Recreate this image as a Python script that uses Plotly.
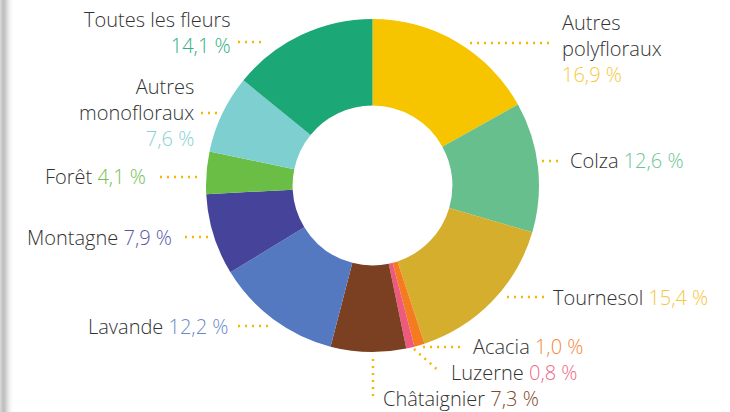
import plotly.graph_objects as go

W, H = 730, 412

labels = ["Autres polyfloraux", "Colza", "Tournesol", "Acacia", "Luzerne", "Châtaignier",
          "Lavande", "Montagne", "Forêt", "Autres monofloraux", "Toutes les fleurs"]
values = [16.9, 12.6, 15.4, 1.0, 0.8, 7.3, 12.2, 7.9, 4.1, 7.6, 14.1]
value_text = ["16,9 %", "12,6 %", "15,4 %", "1,0 %", "0,8 %", "7,3 %",
              "12,2 %", "7,9 %", "4,1 %", "7,6 %", "14,1 %"]
slice_colors = ["#F6C500", "#66BF8C", "#D4AE2C", "#F47B20", "#EE5A7E", "#7B4022",
                "#5479C0", "#46449A", "#6BBE45", "#7ECFCF", "#1BA776"]
value_colors = ["#F7C843", "#6CC597", "#F7C53E", "#F4863A", "#EE6A8A", "#7E4A2C",
                "#6A8ACB", "#5A57A8", "#74C153", "#86D2D2", "#2FB183"]

# label layout: (html name part, anchor, x px, y px, align)
label_layout = [
    ("Autres<br>polyfloraux<br>", "left", 560, 48.5, "left"),
    ("Colza ", "left", 568, 161, "left"),
    ("Tournesol ", "left", 551, 297, "left"),
    ("Acacia ", "left", 471, 346, "left"),
    ("Luzerne ", "left", 449, 372, "left"),
    ("Châtaignier ", "left", 381, 398.6, "left"),
    ("Lavande ", "right", 230, 326, "right"),
    ("Montagne ", "right", 174, 237, "right"),
    ("Forêt ", "right", 148, 177, "right"),
    ("Autres<br>monofloraux<br>", "right", 196, 112.5, "right"),
    ("Toutes les fleurs<br>", "right", 233, 32.5, "right"),
]

leaders = [
    (470, 43, 552, 43),
    (542, 161, 559, 161),
    (507, 297, 544, 297),
    (423, 347, 463, 347),
    (414, 349, 440, 372),
    (373, 359, 373, 397),
    (238, 326, 270, 326),
    (185, 237, 210, 237),
    (160, 177, 199, 177),
    (201, 113, 220, 113),
    (238, 42, 262, 42),
]

def px(x):
    return x / W

def py(y):
    return 1 - y / H

FONT = "Open Sans"

fig = go.Figure(go.Pie(
    labels=labels, values=values, sort=False, direction="clockwise", rotation=0,
    hole=0.48, marker=dict(colors=slice_colors, line=dict(width=0)),
    textinfo="none", hoverinfo="label+percent", showlegend=False,
    domain=dict(x=[px(206), px(539)], y=[py(352), py(19)]),
))

annotations = []
for (name, anchor, x, y, align), vt, vc in zip(label_layout, value_text, value_colors):
    annotations.append(dict(
        xref="paper", yref="paper", x=px(x), y=py(y), xanchor=anchor, yanchor="middle",
        align=align, showarrow=False,
        text=f"{name}<span style='color:{vc}'>{vt}</span>",
        font=dict(family=FONT, size=20, color="#333333", weight=300),
    ))

shapes = []
for x0, y0, x1, y1 in leaders:
    shapes.append(dict(type="line", xref="paper", yref="paper",
                       x0=px(x0), y0=py(y0), x1=px(x1), y1=py(y1),
                       line=dict(color="#F5B800", width=2.5, dash="2px,5px")))

# page-edge shadow at left
shade = ["#d6d6d6", "#cdcdcd", "#c4c4c4", "#bfbfbf", "#c3c3c3", "#cbcbcb", "#d5d5d5",
         "#dfdfdf", "#e8e8e8", "#efefef", "#f5f5f5", "#f9f9f9", "#fcfcfc"]
for i, c in enumerate(shade):
    shapes.append(dict(type="rect", xref="paper", yref="paper", x0=px(i), x1=px(i + 1),
                       y0=0, y1=1, fillcolor=c, line=dict(width=0), layer="below"))

fig.update_layout(
    width=W, height=H, margin=dict(l=0, r=0, t=0, b=0),
    paper_bgcolor="white", plot_bgcolor="white",
    annotations=annotations, shapes=shapes,
)

fig.write_html("out.html", config={"displayModeBar": False},
               post_script="document.body.style.margin='0';")
